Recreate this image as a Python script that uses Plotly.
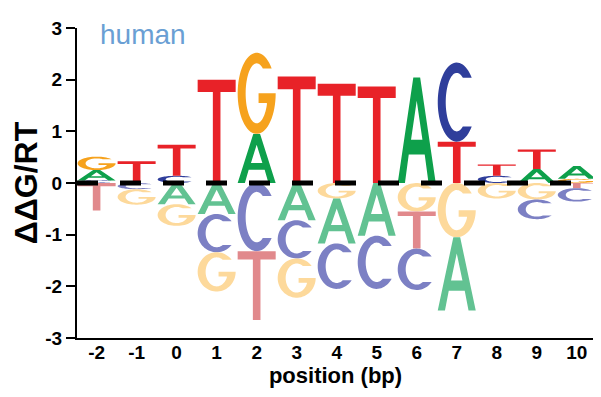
import numpy as np
import plotly.graph_objects as go

# ---------------- data ----------------
positions = [-2, -1, 0, 1, 2, 3, 4, 5, 6, 7, 8, 9, 10]
tick_labels = ["-2", "-1", "0", "1", "2", "3", "4", "5", "6", "7", "8", "9", "10"]
# signed ddG/RT contribution of each base at each position
A_vals = [0.20, 0.00, -0.41, -0.60, 0.95, -0.72, -0.87, -1.02, 2.04, -1.42, 0.00, 0.27, 0.25]
C_vals = [0.05, -0.12, 0.14, -0.74, -1.32, -0.74, -0.88, -1.03, -0.80, 1.53, 0.14, -0.38, -0.26]
G_vals = [0.26, -0.30, -0.42, -0.76, 1.57, -0.76, -0.30, 0.00, -0.55, -1.05, -0.30, -0.32, 0.08]
T_vals = [-0.53, 0.42, 0.60, 2.00, -1.33, 2.06, 1.92, 1.87, -0.72, 0.80, 0.22, 0.38, -0.10]
species_label = "human"

# ---------------- styles ----------------
POS_COLORS = {"A": "#0ea04b", "C": "#2f3e9b", "G": "#f6a21d", "T": "#e82228"}
NEG_COLORS = {"A": "#62c292", "C": "#7c80c4", "G": "#fdd99b", "T": "#e1898c"}
LETTER_WIDTH = 0.95
FONT = "Liberation Sans, Arial, sans-serif"

# ---------------- glyph outlines in a unit box ----------------
TX, TY = 0.21, 0.13  # stroke thickness for round letters


def _ell(rx, ry, angles_deg):
    a = np.radians(angles_deg)
    return list(zip(0.5 + rx * np.cos(a), 0.5 + ry * np.sin(a)))


def _inner_angle_for_y(y, ry):
    s = np.clip((y - 0.5) / ry, -1, 1)
    return np.degrees(np.arcsin(s))


def glyph_polys(letter):
    if letter == "T":
        return [[(0, 1), (1, 1), (1, 0.88), (0.6, 0.88), (0.6, 0),
                 (0.4, 0), (0.4, 0.88), (0, 0.88)]]
    if letter == "A":
        outer = [(0, 0), (0.41, 1), (0.59, 1), (1, 0), (0.81, 0), (0.71, 0.27),
                 (0.29, 0.27), (0.19, 0)]
        hole = [(0.35, 0.41), (0.65, 0.41), (0.5, 0.78)]
        return [outer, hole]
    rxo, ryo = 0.5, 0.5
    rxi, ryi = 0.5 - TX, 0.5 - TY
    if letter == "C":
        a0, a1 = 38, 322
        outer = _ell(rxo, ryo, np.linspace(a0, a1, 60))
        y_bot = 0.5 + ryo * np.sin(np.radians(a1))
        y_top = 0.5 + ryo * np.sin(np.radians(a0))
        ib = 360 + _inner_angle_for_y(y_bot, ryi)
        it = _inner_angle_for_y(y_top, ryi)
        inner = _ell(rxi, ryi, np.linspace(ib, it, 60))
        return [outer + inner]
    if letter == "G":
        a0 = 38
        outer = _ell(rxo, ryo, np.linspace(a0, 360, 60))
        y_top = 0.5 + ryo * np.sin(np.radians(a0))
        it = _inner_angle_for_y(y_top, ryi)
        ths = -22
        xs = 0.5 + rxi * np.cos(np.radians(ths))
        bar = [(1.0, 0.5), (0.55, 0.5), (0.55, 0.38), (xs, 0.38)]
        inner = _ell(rxi, ryi, np.linspace(360 + ths, it, 60))
        return [outer + bar + inner]
    return []


def glyph_path(letter, xc, y0, y1):
    x0 = xc - LETTER_WIDTH / 2
    parts = []
    for poly in glyph_polys(letter):
        pts = [(x0 + u * LETTER_WIDTH, y0 + v * (y1 - y0)) for u, v in poly]
        s = "M {:.5f},{:.5f} ".format(*pts[0])
        s += " ".join("L {:.5f},{:.5f}".format(px, py) for px, py in pts[1:])
        parts.append(s + " Z")
    return " ".join(parts)


# ---------------- build figure ----------------
fig = go.Figure()
fig.add_trace(go.Scatter(x=positions, y=[0] * len(positions), mode="markers",
                         marker=dict(opacity=0), hoverinfo="skip", showlegend=False))

values = {"A": A_vals, "C": C_vals, "G": G_vals, "T": T_vals}
shapes = []
for i, p in enumerate(positions):
    col = [(b, values[b][i]) for b in "ACGT"]
    pos = sorted([(b, v) for b, v in col if v > 0], key=lambda t: t[1])
    neg = sorted([(b, -v) for b, v in col if v < 0], key=lambda t: t[1])
    base = 0.0
    for b, h in pos:
        shapes.append(dict(type="path", xref="x", yref="y",
                           path=glyph_path(b, p, base, base + h),
                           fillcolor=POS_COLORS[b], line=dict(width=0), layer="above"))
        base += h
    base = 0.0
    for b, h in neg:
        shapes.append(dict(type="path", xref="x", yref="y",
                           path=glyph_path(b, p, base - h, base),
                           fillcolor=NEG_COLORS[b], line=dict(width=0), layer="above"))
        base -= h

# dashed zero line on top of the letters
shapes.append(dict(type="line", xref="x", yref="y", x0=-2.49, x1=9.91, y0=0, y1=0,
                   line=dict(color="black", width=5, dash="21px,22px"), layer="above"))

# the page body adds an 8px offset, so the figure is 8px smaller than the window
fig.update_layout(
    width=593, height=389,
    margin=dict(l=69, r=7, t=20, b=59),
    plot_bgcolor="white", paper_bgcolor="white",
    showlegend=False,
    shapes=shapes,
    font=dict(family=FONT, color="black"),
    annotations=[dict(text=species_label, xref="paper", yref="paper",
                      x=0.128, y=0.978, xanchor="center", yanchor="middle",
                      showarrow=False,
                      font=dict(family=FONT, size=28, color="#6a9fd4"))],
)
fig.update_xaxes(
    range=[-2.49, 10.43], tickmode="array", tickvals=positions, ticktext=tick_labels,
    showline=True, linecolor="black", linewidth=2, ticks="",
    showgrid=False, zeroline=False, automargin=False, ticklabelstandoff=-4,
    tickfont=dict(family=FONT, size=19, weight="bold", color="black"),
    title=dict(text="position (bp)", standoff=0,
               font=dict(family=FONT, size=22, weight="bold", color="black")),
)
fig.update_yaxes(
    range=[-3, 3], tickmode="array", tickvals=[-3, -2, -1, 0, 1, 2, 3],
    ticktext=["-3", "-2", "-1", "0", "1", "2", "3"],
    showline=True, linecolor="black", linewidth=2,
    ticks="outside", ticklen=9, tickwidth=1.5, tickcolor="black",
    showgrid=False, zeroline=False, automargin=False,
    tickfont=dict(family=FONT, size=19, weight="bold", color="black"),
    title=dict(text="ΔΔG/RT", standoff=6,
               font=dict(family=FONT, size=32, weight="bold", color="black")),
)

fig.write_html("out.html")
